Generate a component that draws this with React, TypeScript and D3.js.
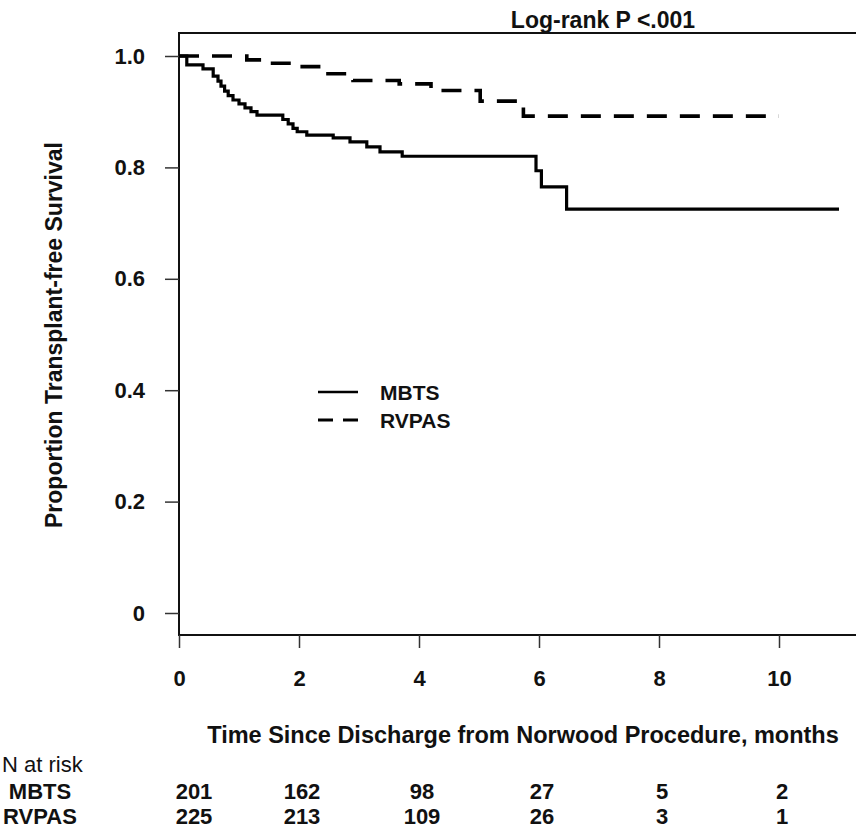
import React from 'react';
import * as d3 from 'd3';

// Kaplan-Meier steps (time in months, proportion surviving)
const mbtsTime = [0, 0.13, 0.4, 0.57, 0.65, 0.7, 0.76, 0.82, 0.9, 1.0, 1.1, 1.2, 1.3, 1.73, 1.82, 1.9, 1.97, 2.13, 2.57, 2.85, 3.13, 3.35, 3.72, 5.95, 6.04, 6.46, 11];
const mbtsSurv = [1.0, 0.984, 0.977, 0.964, 0.955, 0.946, 0.937, 0.929, 0.921, 0.914, 0.907, 0.9, 0.894, 0.886, 0.878, 0.87, 0.864, 0.858, 0.853, 0.846, 0.837, 0.828, 0.82, 0.794, 0.765, 0.725, 0.725];
const rvpasTime = [0, 1.13, 1.45, 2.0, 2.45, 2.9, 3.67, 4.2, 5.02, 5.74, 10];
const rvpasSurv = [1.0, 0.993, 0.987, 0.981, 0.968, 0.956, 0.95, 0.938, 0.919, 0.892, 0.892];

const xTicks = [0, 2, 4, 6, 8, 10];
const yTicks = [0, 0.2, 0.4, 0.6, 0.8, 1.0];
const groups = ['MBTS', 'RVPAS'];
const mbtsAtRisk = [201, 162, 98, 27, 5, 2];
const rvpasAtRisk = [225, 213, 109, 26, 3, 1];

const font = '"Liberation Sans", Arial, sans-serif';

function App() {
  const svgRef = React.useRef(null);
  const width = 856;
  const height = 832;

  React.useEffect(() => {
    const x = d3.scaleLinear().domain([0, 10]).range([179, 779]);
    const y = d3.scaleLinear().domain([0, 1]).range([613, 56]);

    const svg = d3.select(svgRef.current);
    svg.selectAll('*').remove();

    // plot frame: left, top and bottom edges only
    svg.append('path')
      .attr('d', `M${width},33H179V635H${width}`)
      .attr('fill', 'none')
      .attr('stroke', '#111')
      .attr('stroke-width', 2);

    // y axis ticks + labels
    const yAxis = svg.append('g')
      .attr('transform', 'translate(179,0)')
      .call(d3.axisLeft(y).tickValues(yTicks).tickSize(14).tickPadding(20)
        .tickFormat((d) => (d === 0 ? '0' : d3.format('.1f')(d))));
    yAxis.select('.domain').remove();
    yAxis.selectAll('line').attr('stroke', '#333').attr('stroke-width', 1.5);
    yAxis.selectAll('text')
      .attr('font-family', font)
      .attr('font-weight', 'bold')
      .attr('font-size', 22)
      .attr('fill', '#111');

    // x axis ticks + labels
    const xAxis = svg.append('g')
      .attr('transform', 'translate(0,635)')
      .call(d3.axisBottom(x).tickValues(xTicks).tickSize(13).tickPadding(22));
    xAxis.select('.domain').remove();
    xAxis.selectAll('line').attr('stroke', '#333').attr('stroke-width', 1.5);
    xAxis.selectAll('text')
      .attr('font-family', font)
      .attr('font-weight', 'bold')
      .attr('font-size', 22)
      .attr('fill', '#111');

    // survival curves
    const line = d3.line()
      .x((d) => x(d[0]))
      .y((d) => y(d[1]))
      .curve(d3.curveStepAfter);

    svg.append('path')
      .datum(d3.zip(mbtsTime, mbtsSurv))
      .attr('d', line)
      .attr('fill', 'none')
      .attr('stroke', '#000')
      .attr('stroke-width', 3.2);

    svg.append('path')
      .datum(d3.zip(rvpasTime, rvpasSurv))
      .attr('d', line)
      .attr('fill', 'none')
      .attr('stroke', '#000')
      .attr('stroke-width', 3.6)
      .attr('stroke-dasharray', '20,13');

    // legend
    const legend = svg.append('g').attr('transform', 'translate(318,392)');
    groups.forEach((g, i) => {
      legend.append('line')
        .attr('x1', 0).attr('x2', 40)
        .attr('y1', i * 28).attr('y2', i * 28)
        .attr('stroke', '#000')
        .attr('stroke-width', i === 0 ? 2.5 : 3)
        .attr('stroke-dasharray', i === 0 ? null : '15,10');
      legend.append('text')
        .attr('x', 62).attr('y', i * 28 + 8)
        .attr('font-family', font)
        .attr('font-weight', 'bold')
        .attr('font-size', 21)
        .attr('fill', '#111')
        .text(g);
    });

    // titles
    svg.append('text')
      .attr('x', 603).attr('y', 28)
      .attr('text-anchor', 'middle')
      .attr('font-family', font).attr('font-weight', 'bold').attr('font-size', 23)
      .attr('fill', '#111')
      .text('Log-rank P <.001');

    svg.append('text')
      .attr('transform', 'translate(62,335) rotate(-90)')
      .attr('text-anchor', 'middle')
      .attr('font-family', font).attr('font-weight', 'bold').attr('font-size', 23)
      .attr('fill', '#111')
      .text('Proportion Transplant-free Survival');

    svg.append('text')
      .attr('x', 523).attr('y', 743)
      .attr('text-anchor', 'middle')
      .attr('font-family', font).attr('font-weight', 'bold').attr('font-size', 23.5)
      .attr('fill', '#111')
      .text('Time Since Discharge from Norwood Procedure, months');

    // number at risk table
    svg.append('text')
      .attr('x', 2).attr('y', 772)
      .attr('font-family', font).attr('font-size', 22)
      .attr('fill', '#111')
      .text('N at risk');

    [mbtsAtRisk, rvpasAtRisk].forEach((row, i) => {
      const rowY = 799 + i * 25;
      svg.append('text')
        .attr('x', 40).attr('y', rowY)
        .attr('text-anchor', 'middle')
        .attr('font-family', font).attr('font-weight', 'bold').attr('font-size', 22)
        .attr('fill', '#111')
        .text(groups[i]);
      svg.selectAll(null)
        .data(row)
        .enter()
        .append('text')
        .attr('x', (d, j) => x(xTicks[j]) + (j === 0 ? 15 : 3))
        .attr('y', rowY)
        .attr('text-anchor', 'middle')
        .attr('font-family', font).attr('font-weight', 'bold').attr('font-size', 22)
        .attr('fill', '#111')
        .text((d) => d);
    });
  }, []);

  return (
    <svg
      ref={svgRef}
      width={width}
      height={height}
      style={{ position: 'absolute', left: 0, top: 0, background: '#fff' }}
    />
  );
}

export default App;
